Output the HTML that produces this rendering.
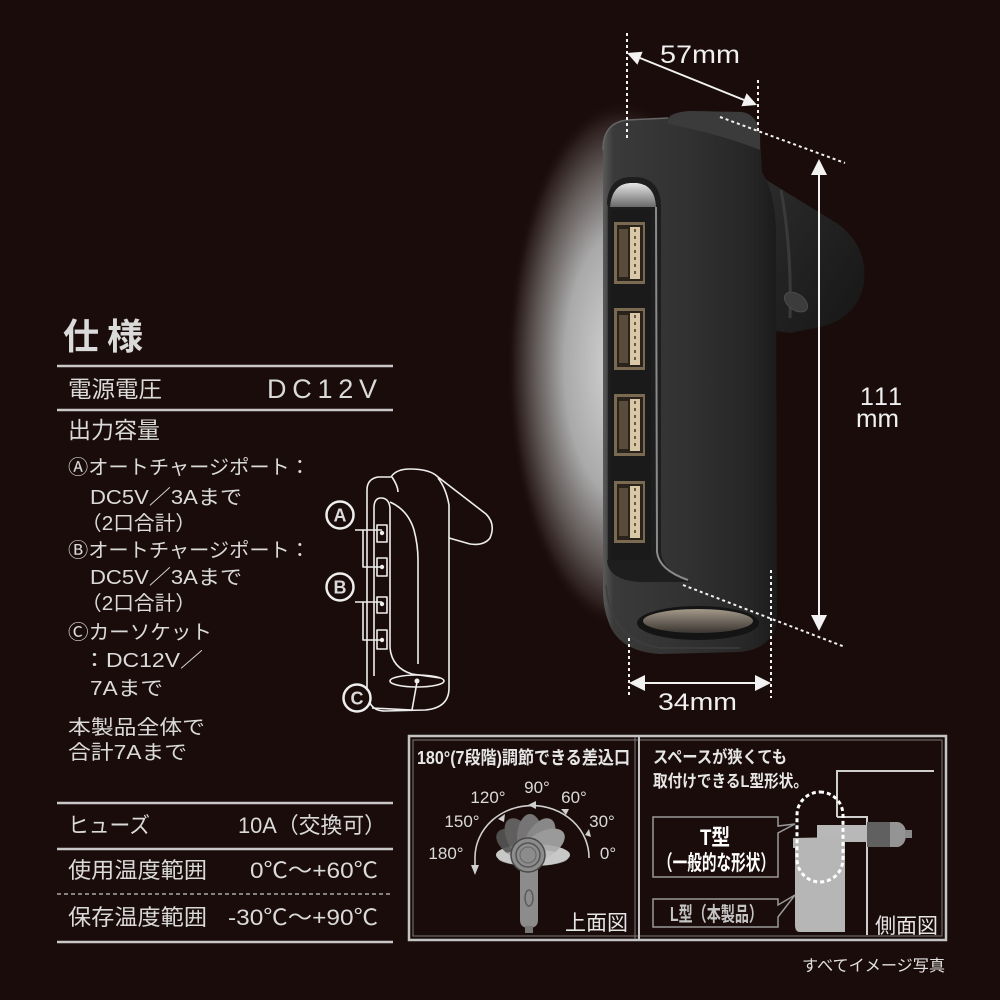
<!DOCTYPE html>
<html><head><meta charset="utf-8">
<style>
html,body{margin:0;padding:0;background:#1a0c0a;}
svg{display:block;}
text{font-family:"Liberation Sans","Noto Sans CJK JP",sans-serif;fill:#dadada;}
</style></head>
<body>
<svg width="1000" height="1000" viewBox="0 0 1000 1000" xmlns="http://www.w3.org/2000/svg">
<defs>
 <radialGradient id="glow" cx="0.5" cy="0.5" r="0.5">
  <stop offset="0" stop-color="#d8d8d8"/>
  <stop offset="0.5" stop-color="#a9a9a9"/>
  <stop offset="0.78" stop-color="#5a5250"/>
  <stop offset="0.93" stop-color="#2a1c1a"/>
  <stop offset="1" stop-color="#1a0c0a" stop-opacity="0"/>
 </radialGradient>
 <linearGradient id="bodyG" x1="0" y1="0" x2="1" y2="0">
  <stop offset="0" stop-color="#5a5a5a"/>
  <stop offset="0.06" stop-color="#3a3a3a"/>
  <stop offset="0.5" stop-color="#313131"/>
  <stop offset="0.85" stop-color="#262626"/>
  <stop offset="1" stop-color="#1b1b1b"/>
 </linearGradient>
 <linearGradient id="armG" x1="0" y1="0" x2="1" y2="1">
  <stop offset="0" stop-color="#2c2c2c"/>
  <stop offset="1" stop-color="#161616"/>
 </linearGradient>
 <linearGradient id="chromeG" x1="0" y1="0" x2="0" y2="1">
  <stop offset="0" stop-color="#e6e6e6"/>
  <stop offset="1" stop-color="#6a6a6a"/>
 </linearGradient>
 <linearGradient id="sockG" x1="0" y1="0" x2="0" y2="1">
  <stop offset="0" stop-color="#a49a8a"/>
  <stop offset="0.5" stop-color="#6e665c"/>
  <stop offset="1" stop-color="#3a3530"/>
 </linearGradient>
</defs>

<rect x="0" y="0" width="1000" height="1000" fill="#1a0c0a"/>

<!-- glow -->
<ellipse cx="622" cy="365" rx="115" ry="265" fill="url(#glow)"/>

<!-- plug arm -->
<path d="M760 176 L838 224 Q868 246 864 283 Q858 318 820 327 L790 333 L776 331 L776 230 Z" fill="url(#armG)"/>
<path d="M781 190 Q792 250 790 318" stroke="#3a3a3a" stroke-width="3" fill="none"/>
<ellipse cx="796" cy="302" rx="13" ry="8" transform="rotate(35 796 302)" fill="#3c3c3c" stroke="#4a4a4a"/>

<!-- body -->
<path d="M603 150 Q603 122 628 120 L668 118 Q672 112 690 111 L742 112 Q758 115 760 135 L762 172 Q775 192 776 232 L777 615 Q777 648 740 652 L660 654 Q625 652 612 630 Q603 612 603 590 Z" fill="url(#bodyG)"/>
<path d="M668 120 Q672 112 690 111 L742 112 Q758 115 760 135 L760 150 Q720 134 668 124 Z" fill="#3b3b3b"/>
<path d="M603 150 Q603 122 628 120 L668 118" stroke="#666" stroke-width="1.5" fill="none"/>

<!-- USB panel -->
<path d="M607 202 Q609 178 630 177 L637 177 Q660 179 661 205 L661 552 Q663 572 692 582 L640 582 Q608 580 607 560 Z" fill="#1e1e1e"/>
<path d="M610 207 Q612 184 630 183 L637 183 Q655 185 656 207 Z" fill="url(#chromeG)"/>
<path d="M656 207 L657 552 Q659 570 688 580" stroke="#8a8a8a" stroke-width="2" fill="none"/>
<path d="M607 205 L607 560" stroke="#4a4a4a" stroke-width="1.5" fill="none"/>
<rect x="611" y="210" width="40" height="350" fill="#1a1a1a"/>

<!-- ports -->
<g>
 <rect x="614" y="222" width="31" height="62" fill="#7a6a52"/>
 <rect x="617" y="225" width="26" height="56" fill="#2a231c"/>
 <rect x="619" y="229" width="9" height="48" fill="#5a4c3a"/>
 <rect x="630" y="227" width="10" height="52" fill="#d8c8a8"/>
 <line x1="635" y1="229" x2="635" y2="277" stroke="#6a5a44" stroke-width="2" stroke-dasharray="3 4"/>
</g>
<g>
 <rect x="614" y="308" width="31" height="62" fill="#7a6a52"/>
 <rect x="617" y="311" width="26" height="56" fill="#2a231c"/>
 <rect x="619" y="315" width="9" height="48" fill="#5a4c3a"/>
 <rect x="630" y="313" width="10" height="52" fill="#d8c8a8"/>
 <line x1="635" y1="315" x2="635" y2="363" stroke="#6a5a44" stroke-width="2" stroke-dasharray="3 4"/>
</g>
<g>
 <rect x="614" y="394" width="31" height="62" fill="#7a6a52"/>
 <rect x="617" y="397" width="26" height="56" fill="#2a231c"/>
 <rect x="619" y="401" width="9" height="48" fill="#5a4c3a"/>
 <rect x="630" y="399" width="10" height="52" fill="#d8c8a8"/>
 <line x1="635" y1="401" x2="635" y2="449" stroke="#6a5a44" stroke-width="2" stroke-dasharray="3 4"/>
</g>
<g>
 <rect x="614" y="481" width="31" height="62" fill="#7a6a52"/>
 <rect x="617" y="484" width="26" height="56" fill="#2a231c"/>
 <rect x="619" y="488" width="9" height="48" fill="#5a4c3a"/>
 <rect x="630" y="486" width="10" height="52" fill="#d8c8a8"/>
 <line x1="635" y1="488" x2="635" y2="536" stroke="#6a5a44" stroke-width="2" stroke-dasharray="3 4"/>
</g>

<!-- base / socket -->
<path d="M606 585 Q610 640 660 648 L740 648" stroke="#3e3e3e" stroke-width="1.5" fill="none"/>
<ellipse cx="698" cy="623" rx="61" ry="17" fill="#141414"/>
<ellipse cx="698" cy="621" rx="55" ry="12" fill="url(#sockG)"/>

<!-- dimension lines -->
<g stroke="#f2f2f2" stroke-width="2" fill="none" stroke-dasharray="3 3">
 <line x1="627" y1="33" x2="627" y2="140"/>
 <line x1="758" y1="80" x2="758" y2="134"/>
 <line x1="720" y1="117" x2="845" y2="163"/>
 <line x1="683" y1="585" x2="845" y2="647"/>
 <line x1="629" y1="638" x2="629" y2="698"/>
 <line x1="771" y1="570" x2="771" y2="698"/>
</g>
<g stroke="#f2f2f2" stroke-width="2" fill="none">
 <line x1="640" y1="58" x2="744" y2="100"/>
 <line x1="819" y1="172" x2="819" y2="618"/>
 <line x1="643" y1="683" x2="757" y2="683"/>
</g>
<g fill="#f2f2f2">
 <polygon points="627,53 637.4,64.7 642.6,51.7"/>
 <polygon points="757,105 741.4,106.3 746.6,93.3"/>
 <polygon points="819,159 811,175 827,175"/>
 <polygon points="819,631 811,615 827,615"/>
 <polygon points="629,683 645,675 645,691"/>
 <polygon points="771,683 755,675 755,691"/>
</g>
<text x="660" y="63" font-size="25" textLength="80" lengthAdjust="spacingAndGlyphs" style="fill:#f0f0f0">57mm</text>
<text x="658" y="710" font-size="24" textLength="79" lengthAdjust="spacingAndGlyphs" style="fill:#f0f0f0">34mm</text>
<text x="860" y="405" font-size="25" textLength="42" lengthAdjust="spacing" style="fill:#f0f0f0">111</text>
<text x="856" y="427" font-size="25" textLength="43" lengthAdjust="spacingAndGlyphs" style="fill:#f0f0f0">mm</text>

<!-- Spec left -->
<text x="63" y="349" font-size="36" font-weight="bold" textLength="80" lengthAdjust="spacing">仕様</text>
<line x1="57" y1="366" x2="393" y2="366" stroke="#c8c8c8" stroke-width="2.5"/>
<text x="68" y="397" font-size="23" textLength="94" lengthAdjust="spacingAndGlyphs">電源電圧</text>
<text x="267" y="398" font-size="27" textLength="110" lengthAdjust="spacing">DC12V</text>
<line x1="57" y1="410" x2="393" y2="410" stroke="#c8c8c8" stroke-width="2.5"/>
<text x="68" y="438" font-size="23" textLength="92" lengthAdjust="spacingAndGlyphs">出力容量</text>

<g font-size="20">
 <text x="68" y="474" textLength="242" lengthAdjust="spacingAndGlyphs">Ⓐオートチャージポート：</text>
 <text x="90" y="504" textLength="152" lengthAdjust="spacingAndGlyphs">DC5V／3Aまで</text>
 <text x="81" y="530" textLength="115" lengthAdjust="spacingAndGlyphs">（2口合計）</text>
 <text x="68" y="557" textLength="242" lengthAdjust="spacingAndGlyphs">Ⓑオートチャージポート：</text>
 <text x="90" y="584" textLength="152" lengthAdjust="spacingAndGlyphs">DC5V／3Aまで</text>
 <text x="81" y="610" textLength="115" lengthAdjust="spacingAndGlyphs">（2口合計）</text>
 <text x="68" y="639" textLength="144" lengthAdjust="spacingAndGlyphs">Ⓒカーソケット</text>
 <text x="83" y="667" textLength="120" lengthAdjust="spacingAndGlyphs">：DC12V／</text>
 <text x="90" y="695" textLength="73" lengthAdjust="spacingAndGlyphs">7Aまで</text>
 <text x="68" y="734" textLength="137" lengthAdjust="spacingAndGlyphs">本製品全体で</text>
 <text x="68" y="759" textLength="119" lengthAdjust="spacingAndGlyphs">合計7Aまで</text>
</g>

<!-- small line drawing -->
<g stroke="#eeeeee" stroke-width="1.6" fill="none" stroke-linejoin="round">
 <path d="M372 706 Q367 700 367 688 L367 490 Q367 479 378 477 L391 477 Q396 469 410 469 Q430 469 438 477 L486 514 Q496 524 490 538 Q484 546 470 544 L449 538 L449 688 Q449 708 425 710 L385 711 Q376 711 372 706 Z"/>
 <path d="M392 477 Q398 486 398 492"/>
 <path d="M438 478 Q446 488 449 505 L449 538"/>
 <path d="M374 676 L374 508 Q374 498 381 498 Q389 498 390 508 L390 648 Q392 668 412 674 L440 678"/>
 <path d="M390 502 Q408 510 414 530 Q418 545 418 560 L418 664"/>
 <ellipse cx="417" cy="681" rx="27" ry="6"/>
 <rect x="377" y="525" width="10" height="17"/>
 <rect x="377" y="558" width="10" height="18"/>
 <rect x="377" y="597" width="10" height="16"/>
 <rect x="377" y="630" width="10" height="19"/>
 <path d="M355 530 L382 530 M363 530 L363 567 L382 567"/>
 <path d="M355 602 L382 602 M363 602 L363 640 L382 640"/>
 <path d="M372 708 L412 710 L417 682"/>
</g>
<g fill="#eeeeee">
 <circle cx="382" cy="533" r="2.2"/><circle cx="382" cy="567" r="2.2"/>
 <circle cx="382" cy="604" r="2.2"/><circle cx="382" cy="640" r="2.2"/>
 <circle cx="417" cy="681" r="2.5"/>
</g>
<g stroke="#eeeeee" stroke-width="2.5" fill="#1a0c0a">
 <circle cx="340" cy="515" r="13.5"/>
 <circle cx="340" cy="587" r="13.5"/>
 <circle cx="357" cy="698" r="13.5"/>
</g>
<g font-size="18" font-weight="bold" text-anchor="middle" style="fill:#eeeeee">
 <text x="340" y="521.5">A</text>
 <text x="340" y="593.5">B</text>
 <text x="357" y="704.5">C</text>
</g>

<!-- bottom table -->
<line x1="57" y1="803" x2="393" y2="803" stroke="#c8c8c8" stroke-width="2.5"/>
<text x="68" y="833" font-size="22" textLength="82" lengthAdjust="spacingAndGlyphs">ヒューズ</text>
<text x="238" y="833" font-size="22" textLength="148" lengthAdjust="spacingAndGlyphs">10A（交換可）</text>
<line x1="57" y1="849" x2="393" y2="849" stroke="#c8c8c8" stroke-width="2.5"/>
<text x="68" y="878" font-size="22" textLength="139" lengthAdjust="spacingAndGlyphs">使用温度範囲</text>
<text x="250" y="878" font-size="22" textLength="128" lengthAdjust="spacingAndGlyphs">0℃～+60℃</text>
<line x1="57" y1="894" x2="393" y2="894" stroke="#aaaaaa" stroke-width="1.5" stroke-dasharray="4 3"/>
<text x="68" y="925" font-size="22" textLength="139" lengthAdjust="spacingAndGlyphs">保存温度範囲</text>
<text x="228" y="925" font-size="22" textLength="150" lengthAdjust="spacingAndGlyphs">-30℃～+90℃</text>
<line x1="57" y1="942" x2="393" y2="942" stroke="#c8c8c8" stroke-width="2.5"/>

<!-- bottom boxes -->
<rect x="409" y="736" width="537" height="204" fill="none" stroke="#c4c4c4" stroke-width="2.5"/>
<rect x="413" y="740" width="529" height="196" fill="none" stroke="#7a7a7a" stroke-width="1"/>
<line x1="635" y1="737" x2="635" y2="939" stroke="#7a7a7a" stroke-width="1"/>
<line x1="639" y1="737" x2="639" y2="939" stroke="#c4c4c4" stroke-width="2"/>

<!-- middle box content -->
<text x="417" y="764" font-size="18" font-weight="bold" textLength="213" lengthAdjust="spacingAndGlyphs" style="fill:#e6e6e6">180°(7段階)調節できる差込口</text>
<g font-size="17" text-anchor="middle" style="fill:#e6e6e6">
 <text x="537" y="793">90°</text>
 <text x="488" y="803">120°</text>
 <text x="574" y="803">60°</text>
 <text x="462" y="827">150°</text>
 <text x="602" y="827">30°</text>
 <text x="446" y="859">180°</text>
 <text x="608" y="859">0°</text>
</g>
<path d="M475 872 L475 857 A57 52 0 0 1 589 858" stroke="#cfcfcf" stroke-width="1.6" fill="none"/>
<polygon points="475,875 471,865 479,865" fill="#cfcfcf"/>
<polygon points="498,819 505,814 504,822" fill="#cfcfcf"/>
<polygon points="528,805 536,801 536,809" fill="#cfcfcf"/>
<polygon points="561,809 569,809 566,815" fill="#cfcfcf"/>
<polygon points="585,835 589,829 591,837" fill="#cfcfcf"/>
<!-- fan petals -->
<ellipse cx="533" cy="855" rx="37" ry="11" fill="#c8c8c8"/>
<g opacity="0.9">
 <ellipse cx="518" cy="845" rx="13" ry="24" transform="rotate(-60 518 845)" fill="#555555"/>
 <ellipse cx="521" cy="840" rx="13" ry="24" transform="rotate(-30 521 840)" fill="#686868"/>
 <ellipse cx="530" cy="838" rx="13" ry="24" fill="#808080"/>
 <ellipse cx="539" cy="840" rx="13" ry="24" transform="rotate(30 539 840)" fill="#969696"/>
 <ellipse cx="543" cy="845" rx="13" ry="24" transform="rotate(60 543 845)" fill="#aaaaaa"/>
</g>
<ellipse cx="533" cy="858" rx="35" ry="8" fill="#c8c8c8" opacity="0.7"/>
<path d="M520 862 L520 920 Q520 928 529 928 Q538 928 538 920 L538 862 Z" fill="#8c8c8c"/>
<ellipse cx="529" cy="898" rx="4" ry="8" fill="none" stroke="#5a5a5a" stroke-width="1.5"/>
<rect x="525" y="926" width="8" height="7" fill="#777"/>
<circle cx="528" cy="855" r="17" fill="#8c8c8c" stroke="#4a4a4a" stroke-width="1.5"/>
<circle cx="528" cy="855" r="12" fill="none" stroke="#555" stroke-width="1.5"/>
<circle cx="528" cy="855" r="8" fill="#8c8c8c" stroke="#666" stroke-width="1"/>
<text x="565" y="930" font-size="21" textLength="63" lengthAdjust="spacingAndGlyphs" style="fill:#e6e6e6">上面図</text>

<!-- right box content -->
<text x="653" y="763" font-size="17" font-weight="bold" textLength="134" lengthAdjust="spacingAndGlyphs" style="fill:#e6e6e6">スペースが狭くても</text>
<text x="653" y="787" font-size="17" font-weight="bold" textLength="155" lengthAdjust="spacingAndGlyphs" style="fill:#e6e6e6">取付けできるL型形状。</text>
<path d="M837 817 L837 771 L934 771" stroke="#cfcfcf" stroke-width="2" fill="none"/>
<path d="M837 817 L867 817 L867 935" stroke="#cfcfcf" stroke-width="2" fill="none"/>
<rect x="817" y="825" width="50" height="17" fill="#b8b8b8"/>
<rect x="867" y="822" width="23" height="25" fill="#606060"/>
<path d="M890 822 L898 822 Q906 824 906 834 Q906 845 898 847 L890 847 Z" fill="#949494"/>
<rect x="905" y="830" width="7" height="8" fill="#8a8a8a"/>
<path d="M793 838 L845 837 L845 932 L800 932 Q795 932 795 925 L795 848 L793 848 Z" fill="#b6b6b6"/>
<rect x="797" y="792" width="46" height="90" rx="23" ry="23" fill="none" stroke="#ffffff" stroke-width="3" stroke-dasharray="4 3"/>
<!-- T box -->
<path d="M653 817 L778 817 L778 826 L795 824 L778 833 L778 877 L653 877 Z" fill="#1a0c0a" stroke="#9a9a9a" stroke-width="1.5"/>
<text x="715" y="845" font-size="22" font-weight="bold" text-anchor="middle" textLength="30" lengthAdjust="spacingAndGlyphs" style="fill:#ffffff">T型</text>
<text x="658" y="870" font-size="21" font-weight="bold" textLength="117" lengthAdjust="spacingAndGlyphs" style="fill:#ffffff">（一般的な形状）</text>
<!-- L box -->
<path d="M653 899 L778 899 L778 905 L795 895 L778 917 L778 927 L653 927 Z" fill="#1a0c0a" stroke="#9a9a9a" stroke-width="1.5"/>
<text x="670" y="921" font-size="20" font-weight="bold" textLength="93" lengthAdjust="spacingAndGlyphs" style="fill:#c4c4c4">L型（本製品）</text>
<text x="875" y="933" font-size="21" textLength="63" lengthAdjust="spacingAndGlyphs" style="fill:#e6e6e6">側面図</text>

<text x="802" y="971" font-size="16" textLength="143" lengthAdjust="spacingAndGlyphs" style="fill:#e0e0e0">すべてイメージ写真</text>
</svg>
</body></html>
